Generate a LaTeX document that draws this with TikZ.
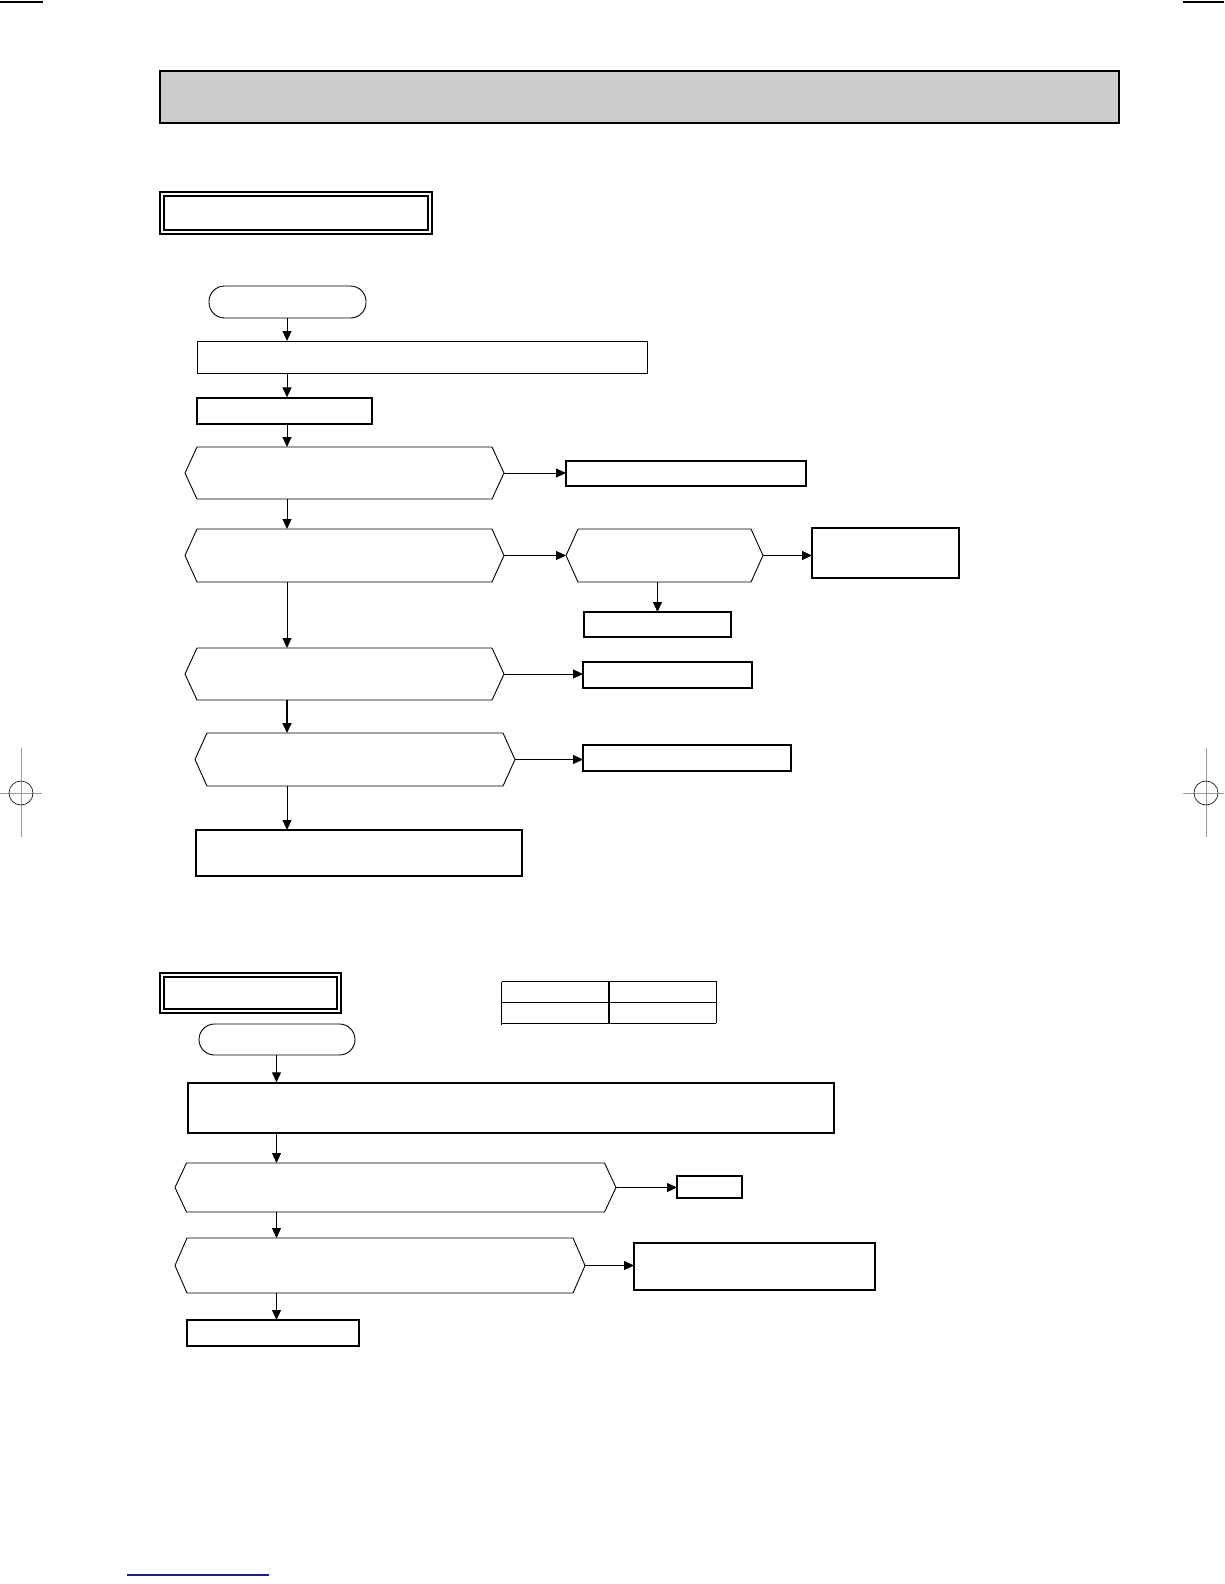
\documentclass[tikz,border=0pt]{standalone}
\usetikzlibrary{arrows.meta}
\definecolor{hdrgray}{HTML}{CCCCCC}
\definecolor{regray}{HTML}{9A9A9A}
\definecolor{navyline}{HTML}{1C1C84}
\tikzset{
  thinbox/.style={draw=black, line width=0.9pt, inner sep=0pt, outer sep=0pt},
  thickbox/.style={draw=black, line width=2pt, inner sep=0pt, outer sep=0pt},
  hexbox/.style={draw=none, inner sep=0pt, outer sep=0pt},
  termbox/.style={draw=black, line width=0.9pt, rounded corners=15.5pt, inner sep=0pt, outer sep=0pt},
  arr/.style={line width=0.9pt, -{Triangle[length=10pt,width=9pt]}},
  boldarr/.style={line width=1.8pt, -{Triangle[length=10pt,width=9pt]}},
}
\newcommand\hexoutline[2]{%
  \draw[line width=0.9pt, line join=miter] (#1.west) -- ([xshift=#2pt]#1.north west) -- ([xshift=-#2pt]#1.north east) -- (#1.east) -- ([xshift=-#2pt]#1.south east) -- ([xshift=#2pt]#1.south west) -- cycle;}
\begin{document}
\begin{tikzpicture}[x=1pt,y=-1pt]
\useasboundingbox (0,0) rectangle (1224,1584);
\fill[white] (0,0) rectangle (1224,1584);

% page marks
\draw[line width=1.2pt] (0,2) -- (43,2);
\draw[line width=1.2pt] (1183,2) -- (1224,2);
\draw[regray, line width=0.8pt] (21,748) -- (21,837);
\draw[regray, line width=0.8pt] (0,793) -- (42,793);
\draw[line width=0.6pt] (21,793) circle (12);
\draw[regray, line width=0.8pt] (1206,748) -- (1206,837);
\draw[regray, line width=0.8pt] (1183,793) -- (1224,793);
\draw[line width=0.6pt] (1206,793) circle (12);
\draw[navyline, line width=1.4pt] (127,1575) -- (269,1575);

% header band
\node[draw=black, fill=hdrgray, line width=1.2pt, minimum width=959pt, minimum height=52pt, inner sep=0pt] (hdr) at (639.5,97) {};

% section 1 title (double frame)
\node[thickbox, minimum width=272pt, minimum height=42pt] (t1) at (296,213) {};
\node[draw=black, line width=1.5pt, minimum width=264pt, minimum height=34pt, inner sep=0pt] (t1in) at (296,213) {};

% flowchart 1
\coordinate (sp1) at (287,0);
\node[termbox, minimum width=157pt, minimum height=32pt] (s1) at (287.5,302) {};
\node[thinbox, minimum width=450pt, minimum height=32pt] (b2) at (422,357) {};
\node[draw=black, line width=1.3pt, inner sep=0pt, minimum width=175pt, minimum height=26pt] (b3) at (284.5,411) {};
\node[hexbox, minimum width=319pt, minimum height=52pt] (h1) at (344.5,473) {};
\hexoutline{h1}{12}
\node[thickbox, minimum width=240pt, minimum height=25pt] (r1) at (686,473.5) {};
\node[hexbox, minimum width=319pt, minimum height=53pt] (h2) at (344.5,555.5) {};
\hexoutline{h2}{12}
\node[hexbox, minimum width=197pt, minimum height=53pt] (h3) at (664.5,555.5) {};
\hexoutline{h3}{12}
\node[thickbox, minimum width=147pt, minimum height=50pt] (r2) at (885.5,553) {};
\node[thickbox, minimum width=147pt, minimum height=25pt] (r3) at (657.5,624.5) {};
\node[hexbox, minimum width=319pt, minimum height=52pt] (h4) at (344.5,674) {};
\hexoutline{h4}{12}
\node[thickbox, minimum width=169pt, minimum height=26pt] (r4) at (667.5,675) {};
\node[hexbox, minimum width=320pt, minimum height=53pt] (h5) at (355,759.5) {};
\hexoutline{h5}{12}
\node[thickbox, minimum width=208pt, minimum height=26pt] (r5) at (687,758) {};
\node[thickbox, minimum width=326pt, minimum height=46pt] (f1) at (359,853) {};

\draw[arr] (s1.south -| sp1) -- (b2.north -| sp1);
\draw[arr] (b2.south -| sp1) -- (b3.north -| sp1);
\draw[arr] (b3.south -| sp1) -- (h1.north -| sp1);
\draw[arr] (h1.south -| sp1) -- (h2.north -| sp1);
\draw[arr] (h2.south -| sp1) -- (h4.north -| sp1);
\draw[boldarr] (h4.south -| sp1) -- (h5.north -| sp1);
\draw[arr] (h5.south -| sp1) -- (f1.north -| sp1);
\draw[arr] (h1.east) -- (h1.east -| r1.west);
\draw[arr] (h2.east) -- (h3.west);
\draw[arr] (h3.east) -- (h3.east -| r2.west);
\draw[arr] (r3.north |- h3.south) -- (r3.north);
\draw[arr] (h4.east) -- (h4.east -| r4.west);
\draw[arr] (h5.east) -- (h5.east -| r5.west);

% section 2 title (double frame)
\node[thickbox, minimum width=181pt, minimum height=40pt] (t2) at (250.5,993) {};
\node[draw=black, line width=1.5pt, minimum width=173pt, minimum height=32pt, inner sep=0pt] (t2in) at (250.5,993) {};

% small table
\node[draw=none, minimum width=214pt, minimum height=41pt, inner sep=0pt] (tab) at (609,1002.5) {};
\draw[line width=1.1pt] (tab.north west) -- (tab.north east) -- (tab.south east);
\draw[line width=1.1pt] (tab.north west) -- ([yshift=-2pt]tab.south west);
\draw[line width=1.1pt] (tab.west) -- (tab.east);
\draw[line width=1.1pt] (tab.south west) -- (tab.south east);
\draw[line width=1.1pt] (tab.north) -- (tab.south);

% flowchart 2
\coordinate (sp2) at (276.5,0);
\node[termbox, minimum width=156pt, minimum height=31pt] (s2) at (277,1039.5) {};
\node[draw=black, line width=1.3pt, inner sep=0pt, minimum width=646pt, minimum height=50pt] (bb) at (511,1108) {};
\node[hexbox, minimum width=441pt, minimum height=49pt] (h6) at (395.5,1187.5) {};
\hexoutline{h6}{11.5}
\node[thickbox, minimum width=65pt, minimum height=22pt] (r6) at (709.5,1187) {};
\node[hexbox, minimum width=410pt, minimum height=55pt] (h7) at (380,1265.5) {};
\hexoutline{h7}{12}
\node[thickbox, minimum width=241pt, minimum height=47pt] (r7) at (754.5,1266.5) {};
\node[thickbox, minimum width=172pt, minimum height=26pt] (f2) at (273,1333) {};

\draw[arr] (s2.south -| sp2) -- (bb.north -| sp2);
\draw[arr] (bb.south -| sp2) -- (h6.north -| sp2);
\draw[arr] (h6.south -| sp2) -- (h7.north -| sp2);
\draw[arr] (h7.south -| sp2) -- (f2.north -| sp2);
\draw[arr] (h6.east) -- (h6.east -| r6.west);
\draw[arr] (h7.east) -- (h7.east -| r7.west);
\end{tikzpicture}
\end{document}
